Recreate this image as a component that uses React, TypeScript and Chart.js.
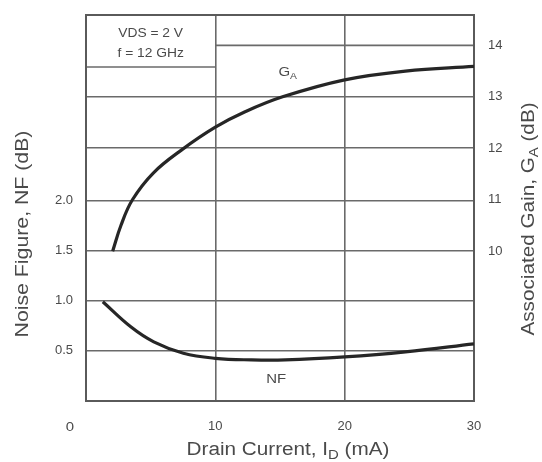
import React, { useEffect, useRef } from "react";
import { Chart, registerables } from "chart.js";

Chart.register(...registerables);

// Values
const nfCurrent = [1.3, 3.46, 5.24, 7.53, 10, 12.8, 15.4, 20, 24.7, 30];
const nfValues = [0.99, 0.74, 0.59, 0.476, 0.426, 0.41, 0.41, 0.44, 0.49, 0.57];

const gaCurrent = [2.06, 2.7, 3.59, 5.2, 7.4, 10, 12.3, 15.2, 20, 24.7, 30];
const gaValues = [10.0, 10.5, 11.0, 11.52, 11.97, 12.41, 12.71, 13.0, 13.33, 13.5, 13.59];

const xTicks = [0, 10, 20, 30];
const nfTicks = [0.5, 1.0, 1.5, 2.0];
const gaTicks = [10, 11, 12, 13, 14];
const gaGridShown = [12, 13];

const conditionLines = ["VDS = 2 V", "f = 12 GHz"];

const FONT = '"Liberation Sans", Arial, Helvetica, sans-serif';
const INK = "#4a4a4a";
const GRID = "#6a6a6a";
const CURVE = "#262626";
const STRETCH = 1.15;

type Seg = { t: string; sub?: boolean };

function drawRich(
  ctx: CanvasRenderingContext2D,
  segs: Seg[],
  x: number,
  y: number,
  size: number,
  rot = 0
) {
  ctx.save();
  ctx.translate(x, y);
  if (rot) ctx.rotate(rot);
  ctx.scale(STRETCH, 1);
  const subSize = Math.round(size * 0.7);
  let total = 0;
  const widths = segs.map((s) => {
    ctx.font = `${s.sub ? subSize : size}px ${FONT}`;
    const w = ctx.measureText(s.t).width;
    total += w;
    return w;
  });
  let cx = -total / 2;
  ctx.fillStyle = INK;
  ctx.textAlign = "left";
  ctx.textBaseline = "alphabetic";
  segs.forEach((s, i) => {
    ctx.font = `${s.sub ? subSize : size}px ${FONT}`;
    const by = size * 0.36 + (s.sub ? size * 0.22 : 0);
    ctx.fillText(s.t, cx, by);
    cx += widths[i];
  });
  ctx.restore();
}

const decorPlugin = {
  id: "decor",
  beforeDatasetsDraw(chart: any) {
    const { ctx, chartArea: a, scales } = chart;
    const x = scales.x;
    const ga = scales.ga;
    ctx.save();
    ctx.strokeStyle = GRID;
    ctx.lineWidth = 1.6;
    // partial 14 dB line (right of the conditions box)
    const y14 = ga.getPixelForValue(14);
    ctx.beginPath();
    ctx.moveTo(x.getPixelForValue(10), y14);
    ctx.lineTo(a.right, y14);
    ctx.stroke();
    // bottom of the conditions box
    const yBox = a.top + 52;
    ctx.beginPath();
    ctx.moveTo(a.left, yBox);
    ctx.lineTo(x.getPixelForValue(10), yBox);
    ctx.stroke();
    // frame
    ctx.lineWidth = 2;
    ctx.strokeStyle = "#5a5a5a";
    ctx.strokeRect(a.left, a.top, a.right - a.left, a.bottom - a.top);
    ctx.restore();
  },
  afterDraw(chart: any) {
    const { ctx, chartArea: a, scales } = chart;
    const x = scales.x;
    const nf = scales.nf;
    const ga = scales.ga;
    // conditions box text
    const boxCx = (a.left + x.getPixelForValue(10)) / 2;
    drawRich(ctx, [{ t: conditionLines[0] }], boxCx, a.top + 18, 12);
    drawRich(ctx, [{ t: conditionLines[1] }], boxCx, a.top + 38, 12);
    // curve labels
    drawRich(ctx, [{ t: "G" }, { t: "A", sub: true }], x.getPixelForValue(15.6), ga.getPixelForValue(13.5), 13);
    drawRich(ctx, [{ t: "NF" }], x.getPixelForValue(14.7), nf.getPixelForValue(0.23), 13);
    // origin label
    drawRich(ctx, [{ t: "0" }], a.left - 16, a.bottom + 25, 13);
    // axis titles
    drawRich(
      ctx,
      [{ t: "Drain Current, I" }, { t: "D", sub: true }, { t: " (mA)" }],
      288,
      448.5,
      18
    );
    drawRich(ctx, [{ t: "Noise Figure, NF (dB)" }], 21, 234, 18.5, -Math.PI / 2);
    drawRich(
      ctx,
      [{ t: "Associated Gain, G" }, { t: "A", sub: true }, { t: " (dB)" }],
      528,
      219,
      18,
      -Math.PI / 2
    );
  },
};

export default function App() {
  const ref = useRef<HTMLCanvasElement | null>(null);

  useEffect(() => {
    if (!ref.current) return;
    const chart = new Chart(ref.current, {
      type: "scatter",
      data: {
        datasets: [
          {
            label: "GA",
            data: gaCurrent.map((c, i) => ({ x: c, y: gaValues[i] })),
            yAxisID: "ga",
            showLine: true,
            borderColor: CURVE,
            borderWidth: 3.2,
            pointRadius: 0,
            tension: 0.4,
          },
          {
            label: "NF",
            data: nfCurrent.map((c, i) => ({ x: c, y: nfValues[i] })),
            yAxisID: "nf",
            showLine: true,
            borderColor: CURVE,
            borderWidth: 3.2,
            pointRadius: 0,
            tension: 0.4,
          },
        ],
      },
      options: {
        animation: false,
        responsive: false,
        devicePixelRatio: 1,
        layout: { padding: { top: 15, left: 0, right: 0, bottom: 0 } },
        plugins: { legend: { display: false }, tooltip: { enabled: false } },
        scales: {
          x: {
            type: "linear",
            min: 0,
            max: 30,
            afterBuildTicks: (s: any) => {
              s.ticks = xTicks.map((v) => ({ value: v }));
            },
            afterFit: (s: any) => {
              s.height = 61;
              s.paddingLeft = 0;
              s.paddingRight = 0;
            },
            ticks: {
              padding: 18,
              font: { family: FONT, size: 13 },
              color: INK,
              maxRotation: 0,
              callback: (v: any) => (v === 0 ? "" : String(v)),
            },
            grid: { color: GRID, lineWidth: 1.6, drawTicks: false },
            border: { display: false },
          },
          nf: {
            type: "linear",
            position: "left",
            min: 0,
            max: 3.85,
            afterBuildTicks: (s: any) => {
              s.ticks = nfTicks.map((v) => ({ value: v }));
            },
            afterFit: (s: any) => {
              s.width = 86;
              s.paddingTop = 0;
              s.paddingBottom = 0;
            },
            ticks: {
              padding: 13,
              font: { family: FONT, size: 13 },
              color: INK,
              callback: (v: any) => Number(v).toFixed(1),
            },
            grid: { color: GRID, lineWidth: 1.6, drawTicks: false },
            border: { display: false },
          },
          ga: {
            type: "linear",
            position: "right",
            min: 7.09,
            max: 14.59,
            afterBuildTicks: (s: any) => {
              s.ticks = gaTicks.map((v) => ({ value: v }));
            },
            afterFit: (s: any) => {
              s.width = 68;
              s.paddingTop = 0;
              s.paddingBottom = 0;
            },
            ticks: {
              padding: 14,
              font: { family: FONT, size: 13 },
              color: INK,
              callback: (v: any) => String(v),
            },
            grid: {
              drawTicks: false,
              lineWidth: 1.6,
              color: (c: any) =>
                gaGridShown.includes(c.tick && c.tick.value) ? GRID : "rgba(0,0,0,0)",
            },
            border: { display: false },
          },
        },
      },
      plugins: [decorPlugin],
    });
    return () => chart.destroy();
  }, []);

  return (
    <div
      style={{
        position: "fixed",
        left: 0,
        top: 0,
        width: 542,
        height: 462,
        background: "#fff",
      }}
    >
      <canvas ref={ref} width={542} height={462} style={{ width: 542, height: 462 }} />
    </div>
  );
}
